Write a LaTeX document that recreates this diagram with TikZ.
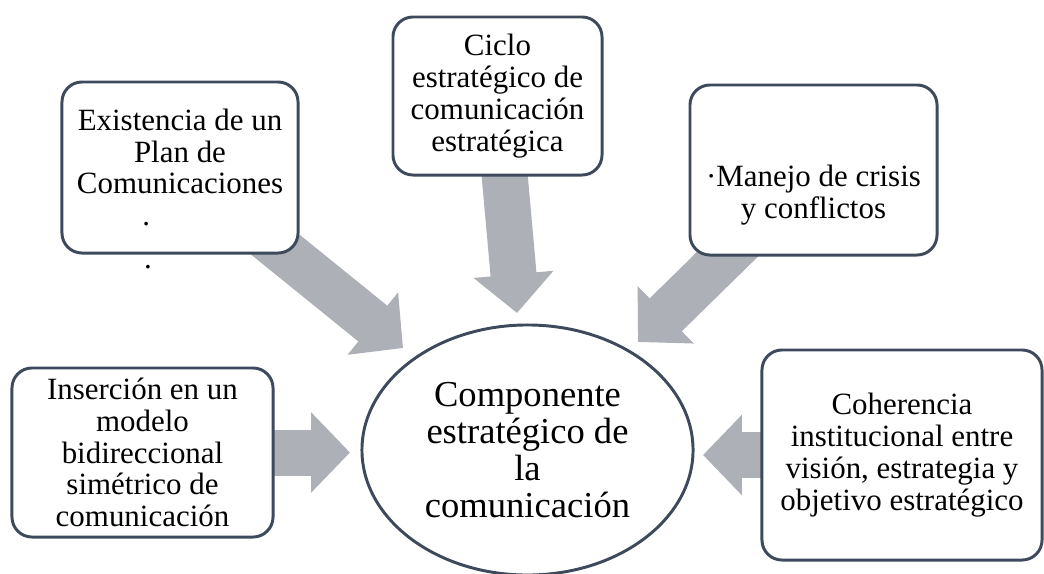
\documentclass[tikz,border=0pt]{standalone}
\usepackage{fontspec}
\setmainfont{Liberation Serif}
\usetikzlibrary{arrows.meta, shapes.geometric, backgrounds}

\definecolor{edge}{RGB}{62,74,92}
\definecolor{shade}{RGB}{173,176,183}

\begin{document}
\begin{tikzpicture}[x=0.025cm, y=-0.025cm, every node/.style={outer sep=0pt}]
	\tikzstyle{card}=[
		draw=edge,
		line width=2.1pt,
		rounded corners=0.5cm,
		fill=white,
		align=center,
		inner sep=4pt,
		font=\fontsize{22}{22.6}\selectfont
	]
	\tikzstyle{core}=[
		ellipse,
		draw=edge,
		line width=2.1pt,
		fill=white,
		align=center,
		inner sep=0pt,
		minimum width=8.275cm,
		minimum height=6.25cm,
		font=\fontsize{26}{26.3}\selectfont
	]
	\tikzstyle{blockarrow}=[
		draw=shade,
		line width=1.15cm,
		-{Triangle[length=0.97cm, width=1.95cm]}
	]

	\useasboundingbox (0,0) rectangle (1044,573);

	% centre
	\node (core) at (527.5,450) [core] {Componente\\estratégico de\\la\\comunicación};

	% boxes round it
	\node (plan) at (180,167.5) [card, minimum width=5.9cm, minimum height=4.275cm]
		{Existencia de un\\Plan de\\Comunicaciones\\\llap{.}\rule{1.5cm}{0pt}};
	\node (plandot) at (148,267) [inner sep=0pt, font=\fontsize{22}{22.6}\selectfont] {.};
	\node (ciclo) at (497.5,96) [card, minimum width=5.225cm, minimum height=3.95cm]
		{Ciclo\\estratégico de\\comunicación\\estratégica};
	\node (crisis) at (813.5,170) [card, minimum width=6.175cm, minimum height=4.25cm]
		{\rule{0pt}{1.78cm}·Manejo de crisis\\y conflictos};
	\node (modelo) at (142.5,452.5) [card, minimum width=6.525cm, minimum height=4.225cm]
		{Inserción en un\\modelo\\bidireccional\\simétrico de\\comunicación};
	\node (coherencia) at (902,455) [card, minimum width=7cm, minimum height=5.25cm]
		{Coherencia\\institucional entre\\visión, estrategia y\\objetivo estratégico};

	% arrow tips
	\coordinate (tipPlan) at (403,348);
	\coordinate (tipCiclo) at (517,313);
	\coordinate (tipCrisis) at (638,342);
	\coordinate (tipModelo) at (350,452.5);
	\coordinate (tipCoherencia) at (703,455);

	\begin{scope}[on background layer]
		\draw [blockarrow] (plan.center) -- (tipPlan);
		\draw [blockarrow] (ciclo.center) -- (tipCiclo);
		\draw [blockarrow] (crisis.center) -- (tipCrisis);
		\draw [blockarrow] (modelo.center) -- (tipModelo);
		\draw [blockarrow] (coherencia.center) -- (tipCoherencia);
	\end{scope}
\end{tikzpicture}
\end{document}
